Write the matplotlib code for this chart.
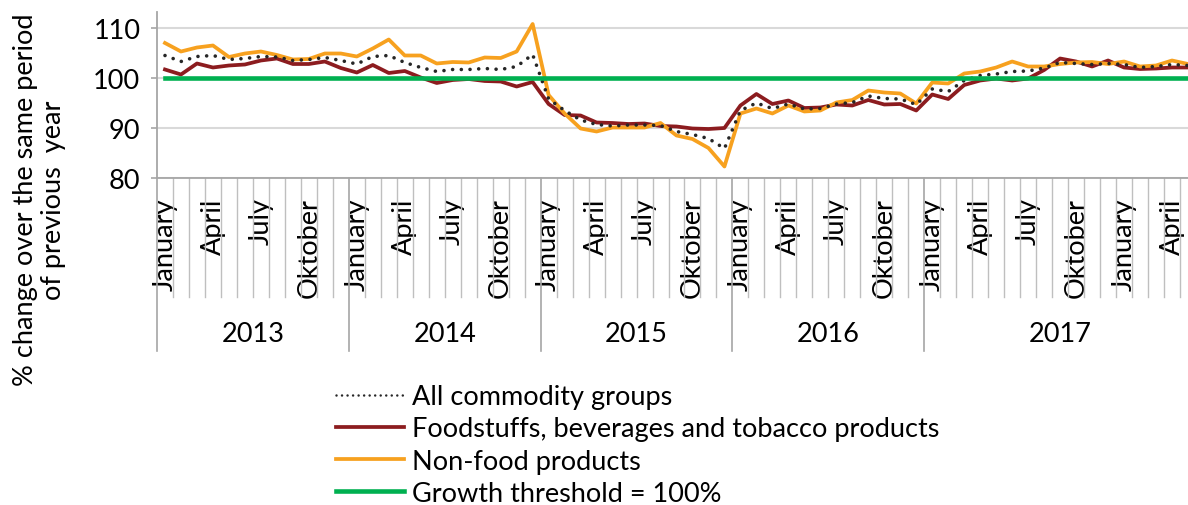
import matplotlib
matplotlib.use("Agg")
import matplotlib.pyplot as plt
from matplotlib.lines import Line2D
from matplotlib.transforms import blended_transform_factory

plt.rcParams["font.family"] = ["Lato", "DejaVu Sans"]

# --- data: monthly index, Jan 2013 .. May 2018 -------------------------------
month_names = ["January", "February", "March", "April", "May", "June", "July",
               "August", "September", "Oktober", "November", "December"]
years = [2013, 2014, 2015, 2016, 2017]
# Excel groups the 2018 months under the last year label
months_per_year = [12, 12, 12, 12, 17]

all_groups = [104.5, 103.3, 104.3, 104.5, 103.7, 103.9, 104.3, 104.2, 103.5, 103.7, 104.1, 103.5,
              102.8, 104.3, 104.5, 103.1, 102.1, 101.3, 101.7, 101.7, 101.9, 101.7, 102.3, 104.7,
              95.8, 93.5, 91.6, 90.7, 90.4, 90.6, 90.6, 90.5, 89.3, 88.7, 87.9, 85.9,
              93.5, 95.0, 93.9, 94.8, 93.8, 93.9, 94.8, 95.1, 96.4, 95.9, 95.8, 94.7,
              97.8, 97.3, 99.5, 100.5, 100.8, 101.3, 101.4, 102.0, 103.1, 102.9, 102.7, 102.9,
              102.7, 102.1, 102.3, 102.7, 102.5]
food = [101.7, 100.7, 102.9, 102.1, 102.5, 102.7, 103.5, 103.9, 102.8, 102.8, 103.3, 102.0,
        101.1, 102.6, 101.0, 101.4, 100.1, 99.0, 99.6, 99.8, 99.4, 99.3, 98.3, 99.2,
        94.8, 92.6, 92.5, 91.1, 91.0, 90.8, 90.9, 90.4, 90.3, 89.9, 89.8, 90.0,
        94.5, 96.8, 94.8, 95.5, 94.0, 94.1, 94.7, 94.5, 95.6, 94.7, 94.8, 93.5,
        96.7, 95.8, 98.6, 99.5, 99.9, 99.5, 99.9, 101.6, 103.9, 103.3, 102.3, 103.5,
        102.1, 101.8, 101.9, 102.1, 102.1]
non_food = [107.0, 105.3, 106.1, 106.5, 104.2, 104.9, 105.3, 104.6, 103.7, 103.8, 104.9, 104.9,
            104.3, 105.9, 107.7, 104.5, 104.5, 102.9, 103.2, 103.1, 104.1, 104.0, 105.3, 110.8,
            96.6, 92.9, 89.9, 89.3, 90.1, 90.1, 90.1, 91.0, 88.5, 87.8, 86.0, 82.3,
            92.9, 93.9, 92.9, 94.5, 93.3, 93.5, 95.1, 95.6, 97.5, 97.1, 96.9, 94.9,
            99.1, 98.9, 100.9, 101.3, 102.1, 103.3, 102.3, 102.3, 102.8, 103.1, 103.2, 102.8,
            103.3, 102.3, 102.5, 103.5, 102.8]
threshold = [100] * len(all_groups)

n = len(all_groups)
labels = [month_names[i % 12] for i in range(n)]
x = list(range(n))

FS = 19.5

# --- figure -----------------------------------------------------------------
W, H = 1188, 506
fig = plt.figure(figsize=(W / 100, H / 100), dpi=100)
ax_l, ax_b, ax_t = 157 / W, (H - 179) / H, (H - 13) / H
ax = fig.add_axes([ax_l, ax_b, 1 - ax_l, ax_t - ax_b])
ax_h_px = 179 - 13

grid_c = "#D9D9D9"
axis_c = "#A6A6A6"

ax.plot(x, all_groups, color="#262626", lw=2.6, linestyle=(0, (0.01, 2.4)),
        dash_capstyle="round", zorder=4)
ax.plot(x, food, color="#8C1C1F", lw=2.7, zorder=3)
ax.plot(x, non_food, color="#F7A11F", lw=2.7, zorder=3)
ax.plot(x, threshold, color="#00B050", lw=3.3, zorder=5)

ax.set_xlim(-0.5, -0.5 + (W - 157) / 16)
ax.set_ylim(80, 80 + ax_h_px / 5)
ax.set_yticks([80, 90, 100, 110])
ax.yaxis.grid(True, color=grid_c, lw=1.5)
ax.set_axisbelow(True)
ax.tick_params(axis="y", direction="out", length=4, width=1.2, color=axis_c,
               labelsize=FS, pad=8)

for s in ["top", "right"]:
    ax.spines[s].set_visible(False)
for s in ["left", "bottom"]:
    ax.spines[s].set_color(axis_c)
    ax.spines[s].set_linewidth(1.3)

# month labels (every third month shown)
ax.set_xticks(x)
ax.set_xticklabels([lab if i % 3 == 0 else "" for i, lab in enumerate(labels)],
                   rotation=90, fontsize=FS, va="top", ha="center")
ax.tick_params(axis="x", length=0, pad=14)

# multi-level category separators
trans = blended_transform_factory(ax.transData, ax.transAxes)
month_bottom = -(298 - 179) / ax_h_px
year_bottom = -(352 - 179) / ax_h_px
year_edges = [-0.5]
for cnt in months_per_year:
    year_edges.append(year_edges[-1] + cnt)
for k in range(1, n):
    edge = k - 0.5
    if edge in year_edges:
        continue
    ax.plot([edge, edge], [0, month_bottom], color="#BFBFBF", lw=1.0,
            transform=trans, clip_on=False)
for edge in year_edges[:-1]:
    ax.plot([edge, edge], [0, year_bottom], color="#A6A6A6", lw=1.2,
            transform=trans, clip_on=False)
for yr, a, b in zip(years, year_edges[:-1], year_edges[1:]):
    ax.text((a + b) / 2, -(335 - 179) / ax_h_px, str(yr),
            transform=trans, ha="center", va="center", fontsize=FS)

fig.text(40 / W, 1 - 200 / H, "% change over the same period\nof previous  year",
         rotation=90, ha="center", va="center", fontsize=FS, linespacing=1.15)

handles = [
    Line2D([], [], color="#262626", lw=1.8, linestyle=(0, (0.01, 2.2)), dash_capstyle="round"),
    Line2D([], [], color="#8C1C1F", lw=2.7),
    Line2D([], [], color="#F7A11F", lw=2.7),
    Line2D([], [], color="#00B050", lw=3.3),
]
names = ["All commodity groups", "Foodstuffs, beverages and tobacco products",
         "Non-food products", "Growth threshold = 100%"]
fig.legend(handles, names, loc="upper left", bbox_to_anchor=(336 / W, 1 - 385 / H),
           frameon=False, fontsize=FS, handlelength=2.5, handletextpad=0.3,
           labelspacing=0.27, borderaxespad=0, borderpad=0)

fig.savefig("out.png", dpi=100)
